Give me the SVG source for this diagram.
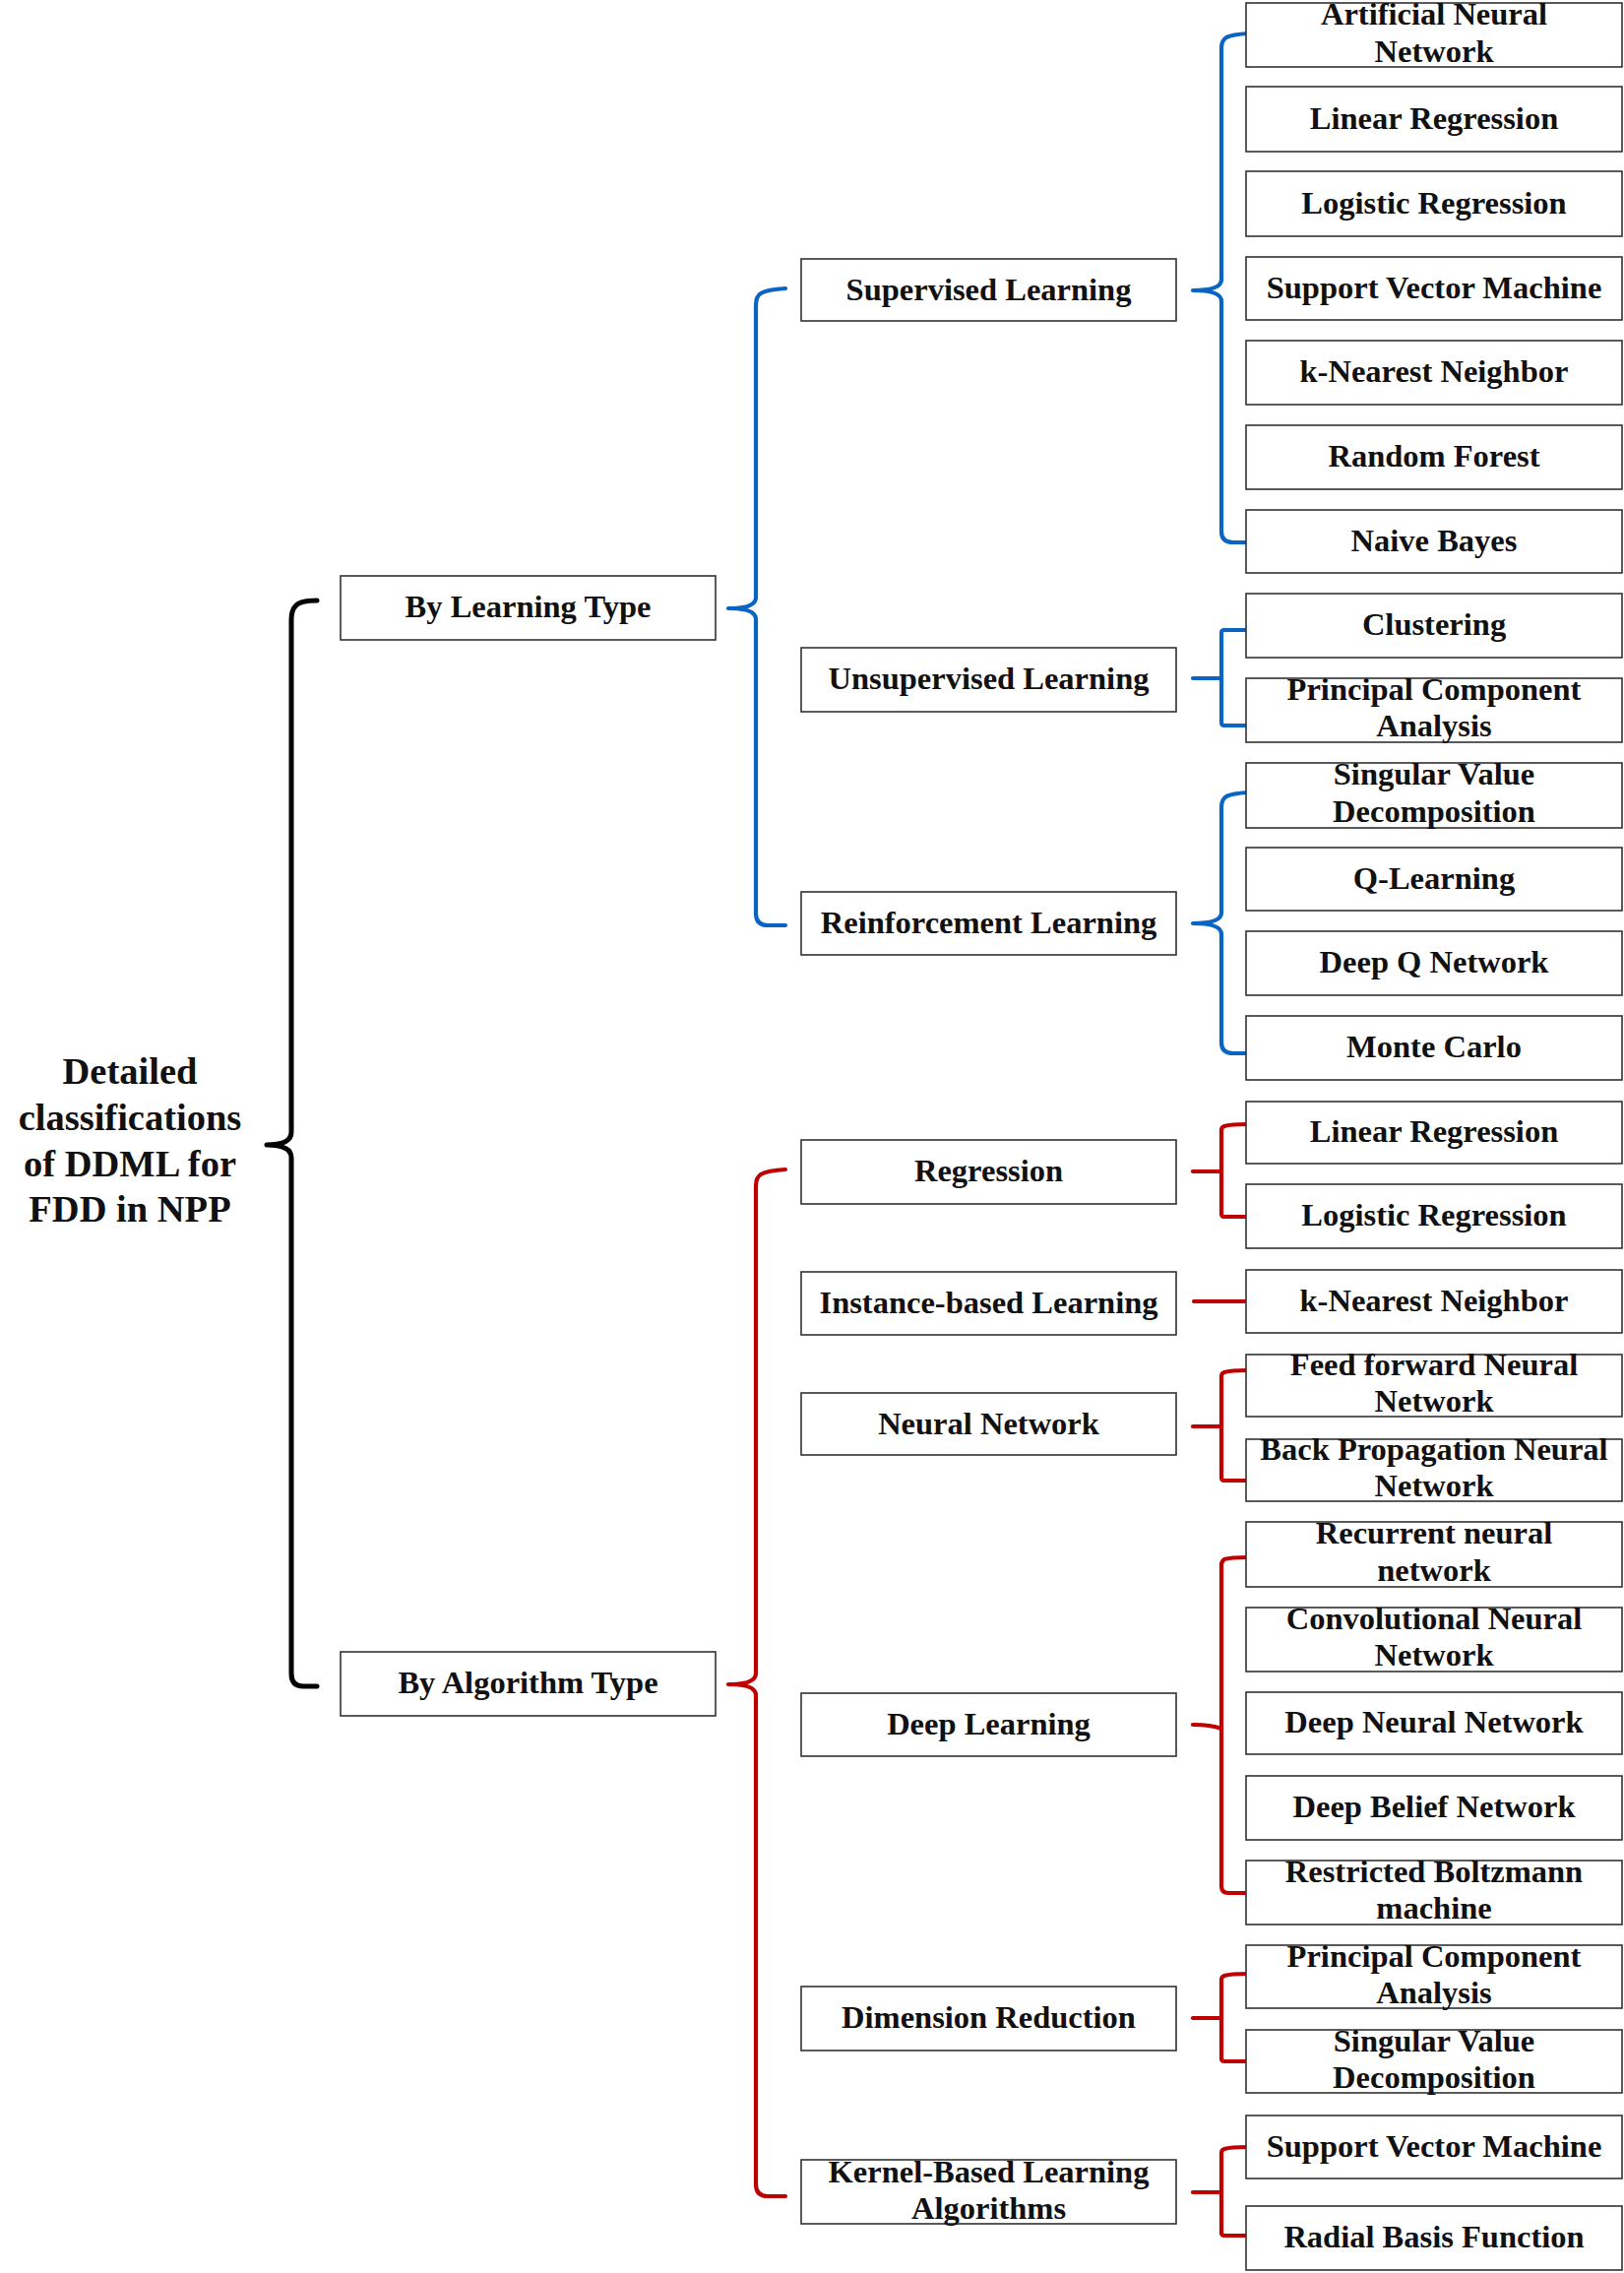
<svg xmlns="http://www.w3.org/2000/svg" width="1650" height="2309" viewBox="0 0 1650 2309">
<style>
.bx{fill:#fff;stroke:#333;stroke-width:1.6}
.t{font-family:"Liberation Serif","Times New Roman",serif;font-weight:bold;font-size:32.5px;fill:#111;text-anchor:middle}
.title{font-family:"Liberation Serif","Times New Roman",serif;font-weight:bold;font-size:38.5px;fill:#111;text-anchor:middle}
.b{fill:none;stroke:#0a64c4;stroke-width:4.2;stroke-linecap:round;stroke-linejoin:round}
.r{fill:none;stroke:#c00000;stroke-width:4.2;stroke-linecap:round;stroke-linejoin:round}
.k{fill:none;stroke:#000;stroke-width:5;stroke-linecap:round;stroke-linejoin:round}
</style>
<rect width="1650" height="2309" fill="#fff"/>
<g id="connectors">
<path class="k" d="M322,610 Q304,610 300,616 Q296,620 296,630 V1150 Q296,1163 271,1163 M296,1176 Q296,1163 271,1163 M296,1176 V1700 Q296,1713 308,1713 H322"/>
<path class="b" d="M798,293 Q780,294 773,298 Q768,301 768,310 V607 Q768,618 740,618 M768,629 Q768,618 740,618 M768,629 V928 Q768,940 780,940 H798"/>
<path class="r" d="M798,1188 Q780,1189 773,1193 Q768,1196 768,1205 V1700 Q768,1711 740,1711 M768,1722 Q768,1711 740,1711 M768,1722 V2219 Q768,2231 780,2231 H798"/>
<path class="b" d="M1268,34 Q1252,35 1246,38 Q1241,41 1241,49 V284 Q1241,295 1212,295 M1241,306 Q1241,295 1212,295 M1241,306 V540 Q1241,551 1253,551 H1268"/>
<path class="b" d="M1268,640 H1244 Q1241,640 1241,643 V734 Q1241,737 1244,737 H1268 M1212,689 H1241"/>
<path class="b" d="M1268,805 Q1252,806 1246,809 Q1241,812 1241,820 V927 Q1241,938 1212,938 M1241,949 Q1241,938 1212,938 M1241,949 V1059 Q1241,1070 1253,1070 H1268"/>
<path class="r" d="M1268,1142 Q1250,1142 1244,1144 Q1241,1145 1241,1148 V1233 Q1241,1236 1244,1236 H1268 M1212,1190 H1241"/>
<path class="r" d="M1213,1322 H1268"/>
<path class="r" d="M1268,1392 Q1250,1392 1244,1394 Q1241,1395 1241,1398 V1501 Q1241,1504 1244,1504 H1268 M1212,1449 H1241"/>
<path class="r" d="M1268,1582 Q1250,1582 1244,1584 Q1241,1586 1241,1590 V1916 Q1241,1923 1248,1923 H1268 M1212,1752 Q1230,1752 1241,1756"/>
<path class="r" d="M1268,2005 Q1250,2005 1244,2007 Q1241,2008 1241,2011 V2091 Q1241,2094 1244,2094 H1268 M1212,2050 H1241"/>
<path class="r" d="M1268,2181 Q1250,2181 1244,2183 Q1241,2184 1241,2187 V2268 Q1241,2271 1244,2271 H1268 M1212,2227 H1241"/>
</g>
<g id="root"><text class="title" x="132" y="1101">Detailed</text><text class="title" x="132" y="1148">classifications</text><text class="title" x="132" y="1195">of DDML for</text><text class="title" x="132" y="1241">FDD in NPP</text></g>
<g id="by-learning-type"><rect class="bx" x="346" y="585" width="381" height="65"/><text class="t" x="536.5" y="627">By Learning Type</text></g>
<g id="by-algorithm-type"><rect class="bx" x="346" y="1678" width="381" height="65"/><text class="t" x="536.5" y="1720">By Algorithm Type</text></g>
<g id="supervised"><rect class="bx" x="814" y="263" width="381" height="63"/><text class="t" x="1004.5" y="305">Supervised Learning</text></g>
<g id="unsupervised"><rect class="bx" x="814" y="658" width="381" height="65"/><text class="t" x="1004.5" y="700">Unsupervised Learning</text></g>
<g id="reinforcement"><rect class="bx" x="814" y="906" width="381" height="64"/><text class="t" x="1004.5" y="948">Reinforcement Learning</text></g>
<g id="regression"><rect class="bx" x="814" y="1158" width="381" height="65"/><text class="t" x="1004.5" y="1200">Regression</text></g>
<g id="instance"><rect class="bx" x="814" y="1292" width="381" height="64"/><text class="t" x="1004.5" y="1334">Instance-based Learning</text></g>
<g id="neural-network"><rect class="bx" x="814" y="1415" width="381" height="63"/><text class="t" x="1004.5" y="1457">Neural Network</text></g>
<g id="deep-learning"><rect class="bx" x="814" y="1720" width="381" height="64"/><text class="t" x="1004.5" y="1762">Deep Learning</text></g>
<g id="dimension-reduction"><rect class="bx" x="814" y="2018" width="381" height="65"/><text class="t" x="1004.5" y="2060">Dimension Reduction</text></g>
<g id="kernel"><rect class="bx" x="814" y="2194" width="381" height="65"/><text class="t" x="1004.5" y="2217">Kernel-Based Learning</text><text class="t" x="1004.5" y="2254">Algorithms</text></g>
<g id="ann"><rect class="bx" x="1266" y="3" width="382" height="65"/><text class="t" x="1457" y="25">Artificial Neural</text><text class="t" x="1457" y="63">Network</text></g>
<g id="linreg1"><rect class="bx" x="1266" y="88" width="382" height="66"/><text class="t" x="1457" y="131">Linear Regression</text></g>
<g id="logreg1"><rect class="bx" x="1266" y="174" width="382" height="66"/><text class="t" x="1457" y="217">Logistic Regression</text></g>
<g id="svm1"><rect class="bx" x="1266" y="261" width="382" height="64"/><text class="t" x="1457" y="303">Support Vector Machine</text></g>
<g id="knn1"><rect class="bx" x="1266" y="346" width="382" height="65"/><text class="t" x="1457" y="388">k-Nearest Neighbor</text></g>
<g id="rf"><rect class="bx" x="1266" y="432" width="382" height="65"/><text class="t" x="1457" y="474">Random Forest</text></g>
<g id="nb"><rect class="bx" x="1266" y="518" width="382" height="64"/><text class="t" x="1457" y="560">Naive Bayes</text></g>
<g id="clustering"><rect class="bx" x="1266" y="603" width="382" height="65"/><text class="t" x="1457" y="645">Clustering</text></g>
<g id="pca1"><rect class="bx" x="1266" y="689" width="382" height="65"/><text class="t" x="1457" y="711">Principal Component</text><text class="t" x="1457" y="748">Analysis</text></g>
<g id="svd1"><rect class="bx" x="1266" y="775" width="382" height="66"/><text class="t" x="1457" y="797">Singular Value</text><text class="t" x="1457" y="835">Decomposition</text></g>
<g id="qlearning"><rect class="bx" x="1266" y="861" width="382" height="64"/><text class="t" x="1457" y="903">Q-Learning</text></g>
<g id="dqn"><rect class="bx" x="1266" y="946" width="382" height="65"/><text class="t" x="1457" y="988">Deep Q Network</text></g>
<g id="mc"><rect class="bx" x="1266" y="1032" width="382" height="65"/><text class="t" x="1457" y="1074">Monte Carlo</text></g>
<g id="linreg2"><rect class="bx" x="1266" y="1119" width="382" height="63"/><text class="t" x="1457" y="1160">Linear Regression</text></g>
<g id="logreg2"><rect class="bx" x="1266" y="1203" width="382" height="65"/><text class="t" x="1457" y="1245">Logistic Regression</text></g>
<g id="knn2"><rect class="bx" x="1266" y="1290" width="382" height="64"/><text class="t" x="1457" y="1332">k-Nearest Neighbor</text></g>
<g id="ffnn"><rect class="bx" x="1266" y="1376" width="382" height="63"/><text class="t" x="1457" y="1397">Feed forward Neural</text><text class="t" x="1457" y="1434">Network</text></g>
<g id="bpnn"><rect class="bx" x="1266" y="1462" width="382" height="63"/><text class="t" x="1457" y="1483">Back Propagation Neural</text><text class="t" x="1457" y="1520">Network</text></g>
<g id="rnn"><rect class="bx" x="1266" y="1546" width="382" height="66"/><text class="t" x="1457" y="1568">Recurrent neural</text><text class="t" x="1457" y="1606">network</text></g>
<g id="cnn"><rect class="bx" x="1266" y="1633" width="382" height="65"/><text class="t" x="1457" y="1655">Convolutional Neural</text><text class="t" x="1457" y="1692">Network</text></g>
<g id="dnn"><rect class="bx" x="1266" y="1719" width="382" height="63"/><text class="t" x="1457" y="1760">Deep Neural Network</text></g>
<g id="dbn"><rect class="bx" x="1266" y="1804" width="382" height="65"/><text class="t" x="1457" y="1846">Deep Belief Network</text></g>
<g id="rbm"><rect class="bx" x="1266" y="1890" width="382" height="65"/><text class="t" x="1457" y="1912">Restricted Boltzmann</text><text class="t" x="1457" y="1949">machine</text></g>
<g id="pca2"><rect class="bx" x="1266" y="1976" width="382" height="64"/><text class="t" x="1457" y="1998">Principal Component</text><text class="t" x="1457" y="2035">Analysis</text></g>
<g id="svd2"><rect class="bx" x="1266" y="2062" width="382" height="64"/><text class="t" x="1457" y="2084">Singular Value</text><text class="t" x="1457" y="2121">Decomposition</text></g>
<g id="svm2"><rect class="bx" x="1266" y="2149" width="382" height="64"/><text class="t" x="1457" y="2191">Support Vector Machine</text></g>
<g id="rbf"><rect class="bx" x="1266" y="2241" width="382" height="65"/><text class="t" x="1457" y="2283">Radial Basis Function</text></g>
</svg>
